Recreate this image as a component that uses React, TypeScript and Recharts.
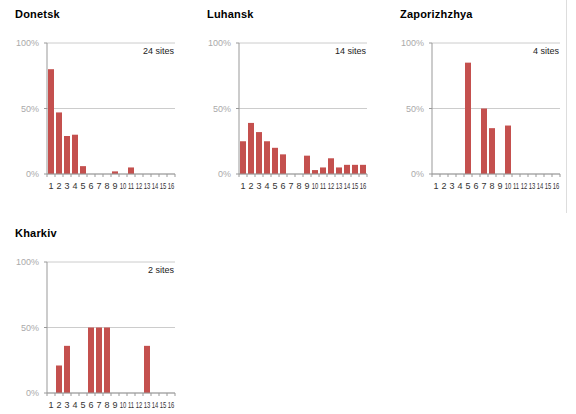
import React from "react";
import { BarChart, Bar, XAxis, YAxis, CartesianGrid } from "recharts";

// share of sites per category, in percent
const CATEGORIES = ["1", "2", "3", "4", "5", "6", "7", "8", "9", "10", "11", "12", "13", "14", "15", "16"];
const DONETSK = [80, 47, 29, 30, 6, 0, 0, 0, 2, 0, 5, 0, 0, 0, 0, 0];
const LUHANSK = [25, 39, 32, 25, 20, 15, 0, 0, 14, 3, 5, 12, 5, 7, 7, 7];
const ZAPORIZHZHYA = [0, 0, 0, 0, 85, 0, 50, 35, 0, 37, 0, 0, 0, 0, 0, 0];
const KHARKIV = [0, 21, 36, 0, 0, 50, 50, 50, 0, 0, 0, 0, 36, 0, 0, 0];
const TITLES = ["Donetsk", "Luhansk", "Zaporizhzhya", "Kharkiv"];
const SITES = ["24 sites", "14 sites", "4 sites", "2 sites"];
const Y_TICKS = [0, 50, 100];

const W = 190;
const H = 200;
const MARGIN = { top: 43, right: 15, bottom: 6, left: 7 };
const Y_AXIS_W = 40;
const X_AXIS_H = 20;
const PLOT_W = W - MARGIN.left - MARGIN.right - Y_AXIS_W;
const AXIS_Y = H - MARGIN.bottom - X_AXIS_H;
const BAR_RED = "#c4504e";

const toRows = (values: number[]) =>
  CATEGORIES.map((cat, i) => ({ cat, pct: values[i] }));

const PANELS = [
  { values: DONETSK, left: 0, top: 0 },
  { values: LUHANSK, left: 192, top: 0 },
  { values: ZAPORIZHZHYA, left: 385, top: 0 },
  { values: KHARKIV, left: 0, top: 219 },
];

const XTick = (props: any) => {
  const { x, payload, index } = props;
  const band = PLOT_W / CATEGORIES.length;
  const half = band / 2;
  const label = String(payload.value);
  // two-digit labels are squeezed horizontally to fit their band, as in the original
  const sx = label.length > 1 ? 0.65 : 1;
  return (
    <g>
      <line x1={x - half} x2={x - half} y1={AXIS_Y} y2={AXIS_Y + 3} stroke="#999" />
      {index === CATEGORIES.length - 1 && (
        <line x1={x + half} x2={x + half} y1={AXIS_Y} y2={AXIS_Y + 3} stroke="#999" />
      )}
      <text
        transform={`translate(${x},${AXIS_Y + 14.5}) scale(${sx},1)`}
        textAnchor="middle"
        fontSize={9}
        fill="#333"
      >
        {label}
      </text>
    </g>
  );
};

const Panel = ({ idx }: { idx: number }) => {
  const p = PANELS[idx];
  return (
    <div style={{ position: "absolute", left: p.left, top: p.top, width: W, height: H }}>
      <div
        style={{
          position: "absolute",
          left: 15,
          top: 9,
          fontSize: 11,
          lineHeight: "11px",
          fontWeight: "bold",
          letterSpacing: "0.2px",
          color: "#000",
          whiteSpace: "nowrap",
        }}
      >
        {TITLES[idx]}
      </div>
      <div
        style={{
          position: "absolute",
          right: W - 174,
          top: 47,
          fontSize: 9,
          lineHeight: "9px",
          color: "#222",
          whiteSpace: "nowrap",
        }}
      >
        {SITES[idx]}
      </div>
      <BarChart width={W} height={H} data={toRows(p.values)} margin={MARGIN}>
        <CartesianGrid vertical={false} stroke="#ccc" />
        <XAxis
          dataKey="cat"
          interval={0}
          height={X_AXIS_H}
          tickLine={false}
          axisLine={{ stroke: "#999" }}
          tick={<XTick />}
        />
        <YAxis
          type="number"
          domain={[0, 100]}
          ticks={Y_TICKS}
          interval={0}
          width={Y_AXIS_W}
          tickSize={3}
          tickMargin={5}
          tickLine={{ stroke: "#999" }}
          axisLine={{ stroke: "#999" }}
          tick={{ fontSize: 9, fill: "#aaa" }}
          tickFormatter={(v) => `${v}%`}
        />
        <Bar dataKey="pct" fill={BAR_RED} barSize={6} isAnimationActive={false} />
      </BarChart>
    </div>
  );
}

export default function App() {
  return (
    <div
      style={{
        position: "absolute",
        left: 0,
        top: 0,
        width: 576,
        height: 414,
        background: "#fff",
        fontFamily: "'Liberation Sans', Arial, sans-serif",
        overflow: "hidden",
      }}
    >
      {PANELS.map((_, i) => (
        <Panel key={i} idx={i} />
      ))}
      <div style={{ position: "absolute", left: 566, top: 0, width: 1, height: 213, background: "#ddd" }} />
    </div>
  );
}
